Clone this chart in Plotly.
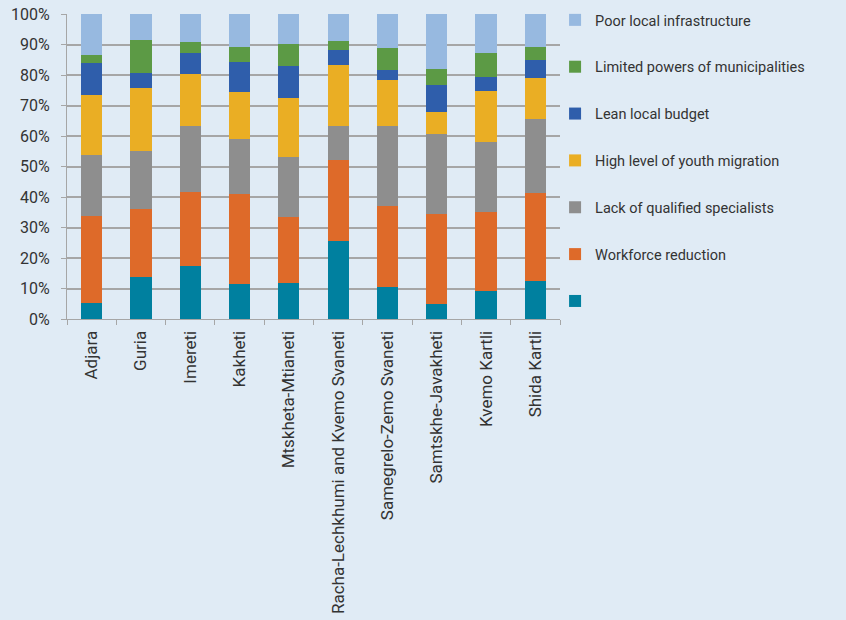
import plotly.graph_objects as go

regions = [
    "Adjara", "Guria", "Imereti", "Kakheti", "Mtskheta-Mtianeti",
    "Racha-Lechkhumi and Kvemo Svaneti", "Samegrelo-Zemo Svaneti",
    "Samtskhe-Javakheti", "Kvemo Kartli", "Shida Kartli",
]

# Share of each problem per region (%), stacked bottom to top
unnamed = [5.2, 13.8, 17.5, 11.5, 11.8, 25.6, 10.5, 5.0, 9.2, 12.5]
workforce_reduction = [28.6, 22.3, 24.1, 29.5, 21.6, 26.5, 26.5, 29.5, 26.0, 28.9]
lack_of_specialists = [19.9, 19.0, 21.8, 18.0, 19.7, 11.3, 26.4, 26.3, 22.9, 24.2]
youth_migration = [19.7, 20.7, 17.0, 15.4, 19.4, 19.9, 15.0, 7.2, 16.8, 13.5]
lean_budget = [10.4, 4.9, 6.8, 10.0, 10.6, 4.9, 3.3, 8.7, 4.4, 5.9]
limited_powers = [2.8, 10.9, 3.6, 4.8, 7.2, 2.9, 7.3, 5.3, 7.9, 4.2]
poor_infrastructure = [13.4, 8.4, 9.2, 10.8, 9.7, 8.9, 11.0, 18.0, 12.8, 10.8]

series = [
    (" ", unnamed, "#00809f"),
    ("Workforce reduction", workforce_reduction, "#de6a29"),
    ("Lack of qualified specialists", lack_of_specialists, "#8e8e8e"),
    ("High level of youth migration", youth_migration, "#eaae24"),
    ("Lean local budget", lean_budget, "#2f5eab"),
    ("Limited powers of municipalities", limited_powers, "#5c9a45"),
    ("Poor local infrastructure", poor_infrastructure, "#97b9e0"),
]

FONT = "Roboto, sans-serif"
TEXT = "#333333"
BG = "#e0ebf5"
GRID = "#a6a6a6"

fig = go.Figure()
n = len(series)
for i, (name, vals, color) in enumerate(series):
    fig.add_trace(go.Bar(
        x=regions, y=vals, name=name,
        marker=dict(color=color, line=dict(width=0)),
        width=0.43, legendgroup=f"g{i}",
        # top segment of the stack listed first in the legend
        legendrank=100 + (n - 1 - i),
    ))

fig.update_layout(
    barmode="stack",
    width=846, height=620,
    paper_bgcolor=BG, plot_bgcolor=BG,
    margin=dict(l=67, r=286, t=14, b=301, autoexpand=False),
    font=dict(family=FONT, size=14, color=TEXT),
    showlegend=True,
    legend=dict(
        traceorder="grouped", x=0.99, xanchor="left",
        y=1.033, yanchor="top", maxheight=600,
        font=dict(family=FONT, size=14.5, color=TEXT),
        bgcolor="rgba(0,0,0,0)", tracegroupgap=25, itemwidth=30,
    ),
    xaxis=dict(
        tickangle=-90, showgrid=False, ticks="outside", tickson="boundaries",
        ticklen=5, tickcolor=GRID, showline=True, linecolor=GRID,
        linewidth=1, automargin=False, ticklabelstandoff=4,
        tickfont=dict(family=FONT, size=17, color=TEXT),
    ),
    yaxis=dict(
        range=[0, 100], tickvals=list(range(0, 101, 10)),
        ticktext=[f"{v}%" for v in range(0, 101, 10)],
        showgrid=True, gridcolor=GRID, gridwidth=1.5,
        ticks="outside", ticklen=5, tickcolor=GRID,
        showline=True, linecolor=GRID, linewidth=1, zeroline=False,
        automargin=False, ticklabelstandoff=8,
        tickfont=dict(family=FONT, size=16, color=TEXT),
    ),
)

fig.write_html("out.html")
